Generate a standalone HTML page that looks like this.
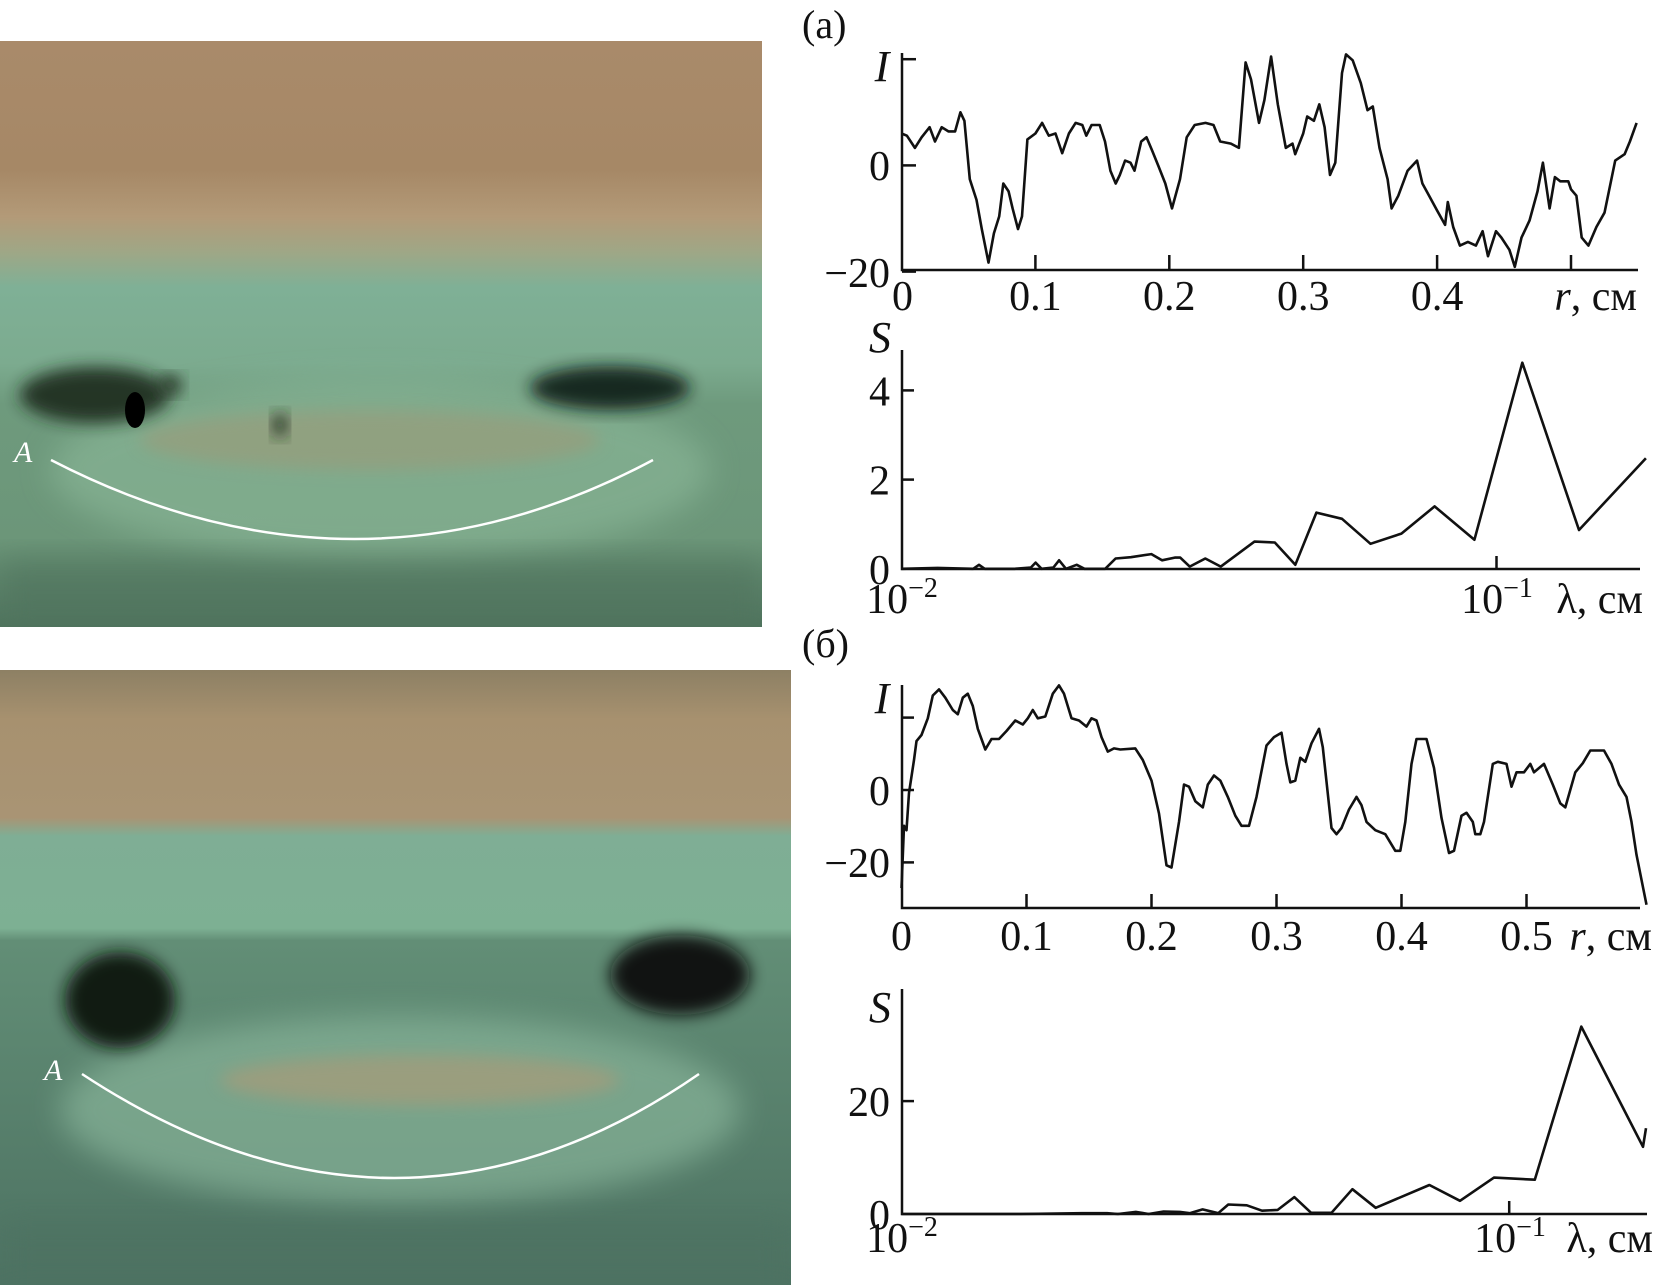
<!DOCTYPE html>
<html><head><meta charset="utf-8">
<style>
html,body{margin:0;padding:0;background:#fff;}
body{width:1654px;height:1285px;overflow:hidden;position:relative;}
svg{position:absolute;left:0;top:0;}
svg text{font-family:"Liberation Serif","Times New Roman",serif;fill:#111;}
</style></head>
<body>
<svg id="fig" width="1654" height="1285" viewBox="0 0 1654 1285" xmlns="http://www.w3.org/2000/svg" font-family="'Liberation Serif', 'Times New Roman', serif">
<defs>
<filter id="b8" x="-30%" y="-30%" width="160%" height="160%"><feGaussianBlur stdDeviation="8"/></filter>
<filter id="b15" x="-30%" y="-30%" width="160%" height="160%"><feGaussianBlur stdDeviation="15"/></filter>
<clipPath id="c1"><rect x="0" y="41" width="762" height="586"/></clipPath>
<clipPath id="c2"><rect x="0" y="670" width="791" height="615"/></clipPath>
<linearGradient id="g1" x1="0" y1="0" x2="0" y2="1">
<stop offset="0" stop-color="#a98a6a"/><stop offset="0.22" stop-color="#a68866"/>
<stop offset="0.3" stop-color="#b39a78"/><stop offset="0.36" stop-color="#9fa786"/>
<stop offset="0.42" stop-color="#7fb096"/><stop offset="0.55" stop-color="#7cab8f"/>
<stop offset="0.62" stop-color="#6e9a7d"/><stop offset="0.85" stop-color="#6c9679"/>
<stop offset="1" stop-color="#4f735d"/></linearGradient>
<linearGradient id="g2" x1="0" y1="0" x2="0" y2="1">
<stop offset="0" stop-color="#8d8064"/><stop offset="0.08" stop-color="#a7916f"/>
<stop offset="0.24" stop-color="#a99474"/><stop offset="0.27" stop-color="#7fae95"/>
<stop offset="0.42" stop-color="#7db093"/><stop offset="0.44" stop-color="#628e76"/>
<stop offset="1" stop-color="#4d7262"/></linearGradient>
</defs>

<g clip-path="url(#c1)">
<rect x="0" y="41" width="762" height="586" fill="url(#g1)"/>
<ellipse cx="380" cy="470" rx="330" ry="90" fill="#8fbc9c" opacity="0.55" filter="url(#b15)"/>
<ellipse cx="370" cy="440" rx="230" ry="30" fill="#9c9a78" opacity="0.6" filter="url(#b8)"/>
<ellipse cx="95" cy="395" rx="75" ry="28" fill="#1c2a1e" opacity="0.9" filter="url(#b8)"/>
<ellipse cx="135" cy="410" rx="10" ry="18" fill="#000"/>
<ellipse cx="610" cy="388" rx="80" ry="22" fill="#111a12" opacity="0.9" filter="url(#b8)"/>
<ellipse cx="280" cy="425" rx="7" ry="12" fill="#1a2a1c" filter="url(#b8)"/>
<ellipse cx="170" cy="385" rx="12" ry="10" fill="#2a3a2a" filter="url(#b8)"/>
<rect x="0" y="560" width="762" height="70" fill="#4f735d" opacity="0.6" filter="url(#b15)"/>
<path d="M51 460 Q357 618 653 460" fill="none" stroke="#fff" stroke-width="2.5"/>
<text x="14" y="462" font-size="30" font-style="italic" style="fill:#fff">A</text>
</g>

<g clip-path="url(#c2)">
<rect x="0" y="670" width="791" height="615" fill="url(#g2)"/>
<ellipse cx="400" cy="1110" rx="340" ry="95" fill="#8fbca0" opacity="0.6" filter="url(#b15)"/>
<ellipse cx="420" cy="1080" rx="200" ry="25" fill="#b09a76" opacity="0.6" filter="url(#b8)"/>
<ellipse cx="120" cy="1000" rx="55" ry="48" fill="#0c140d" opacity="0.95" filter="url(#b8)"/>
<ellipse cx="680" cy="975" rx="70" ry="40" fill="#070b07" opacity="0.95" filter="url(#b8)"/>
<rect x="0" y="1220" width="791" height="70" fill="#4d7262" opacity="0.7" filter="url(#b15)"/>
<path d="M82 1074 Q398 1282 699 1074" fill="none" stroke="#fff" stroke-width="2.5"/>
<text x="44" y="1080" font-size="30" font-style="italic" style="fill:#fff">A</text>
</g>

<text x="802" y="38" font-size="40">(a)</text>
<text x="802" y="657" font-size="40">(б)</text>
<g id="charts"></g>
</svg>
<script>
// ---- Chart (a) I(r) ----
const rA=[0,.004,.010,.015,.021,.025,.030,.035,.040,.044,.047,.051,.056,.060,.065,.069,.073,.076,.080,.083,.087,.090,.094,.100,.105,.110,.115,.120,.125,.130,.135,.138,.142,.148,.152,.156,.160,.163,.167,.171,.174,.179,.183,.187,.192,.197,.202,.208,.213,.219,.227,.233,.238,.246,.252,.257,.261,.267,.271,.276,.281,.287,.292,.294,.300,.303,.308,.312,.316,.320,.324,.329,.332,.337,.343,.348,.352,.357,.363,.366,.371,.378,.385,.389,.394,.400,.406,.408,.412,.417,.423,.429,.434,.438,.444,.448,.454,.458,.463,.469,.475,.479,.484,.488,.492,.498,.500,.504,.508,.513,.519,.525,.533,.540,.544,.549];
const IA=[6.0,5.6,3.3,5.3,7.2,4.5,7.2,6.4,6.4,10.0,8.4,-2.6,-6.5,-12.0,-18.3,-12.8,-9.6,-3.4,-4.9,-8.1,-12.0,-9.6,4.9,6.0,8.0,5.6,6.0,2.3,6.0,8.0,7.6,5.6,7.6,7.6,4.5,-1.0,-3.4,-1.8,0.9,0.5,-1.0,4.5,5.3,2.9,-0.2,-3.4,-8.1,-2.6,5.3,7.6,8.0,7.6,4.5,4.1,3.3,19.4,16.2,8.0,12.3,20.5,11.5,3.3,4.1,2.1,6.0,9.2,8.4,11.5,7.2,-1.8,0.5,17.4,20.9,19.8,15.5,10.4,11.1,3.3,-2.6,-8.1,-5.7,-1.0,0.9,-3.4,-5.7,-8.5,-11.2,-6.9,-11.6,-15.1,-14.4,-15.1,-12.4,-17.1,-12.4,-13.6,-15.9,-19.1,-13.6,-10.4,-4.9,0.5,-8.1,-2.2,-3.0,-3.0,-4.5,-5.7,-13.6,-15.1,-11.6,-8.9,0.9,2.1,4.5,8.0];
const rTicksA=["0","0.1","0.2","0.3","0.4"];
// ---- Chart (a) S(lambda) ----
const lamA=[.0100,.0115,.0132,.0135,.0138,.0155,.0165,.0168,.0172,.0180,.0184,.0189,.0197,.0203,.0220,.0229,.0243,.0263,.0274,.0288,.0294,.0305,.0324,.0344,.0392,.0424,.0459,.0498,.0550,.0614,.0692,.0787,.0918,.1105,.1376,.1783];
const SA=[0,.02,0,.09,0,0,.03,.14,0,.03,.19,0,.09,0,0,.23,.26,.33,.19,.25,.25,.05,.23,.05,.61,.59,.09,1.26,1.12,.56,.79,1.40,.65,4.62,.87,2.48];
const sTicksA=["0","2","4"];
// ---- Chart (б) I(r) ----
const rB=[0,.002,.004,.006,.010,.012,.016,.021,.025,.030,.035,.041,.045,.049,.053,.057,.061,.067,.072,.078,.084,.091,.097,.101,.105,.109,.115,.121,.126,.130,.136,.142,.148,.152,.156,.160,.165,.170,.175,.187,.193,.200,.206,.212,.216,.222,.226,.230,.235,.241,.245,.250,.255,.261,.267,.272,.278,.284,.292,.298,.304,.308,.311,.315,.319,.323,.328,.334,.337,.344,.348,.352,.358,.364,.368,.372,.379,.387,.395,.399,.403,.408,.412,.420,.426,.432,.438,.442,.448,.452,.457,.459,.463,.466,.473,.477,.484,.488,.492,.498,.503,.506,.514,.521,.527,.531,.539,.545,.551,.562,.568,.574,.580,.584,.588,.596];
const IB=[-27.1,-9.9,-11.1,-0.8,8.3,13.5,15.2,19.8,26.1,27.8,25.5,22.1,20.9,25.5,26.6,23.2,16.9,11.2,14.1,14.1,16.3,19.2,18.1,19.8,22.1,19.8,20.3,26.6,28.9,26.6,19.8,19.2,17.5,19.8,19.2,14.6,10.6,11.5,11.2,11.5,8.3,2.6,-6.5,-20.8,-21.4,-8.8,1.5,0.9,-3.1,-4.8,1.5,4.0,2.6,-1.9,-7.1,-9.9,-9.9,-1.9,12.3,14.6,15.8,7.2,2.1,2.6,8.9,7.8,12.9,16.9,11.8,-10.5,-12.2,-10.5,-5.4,-1.9,-4.2,-8.8,-11.1,-12.2,-16.8,-16.8,-8.8,7.2,14.1,14.1,6.1,-7.7,-17.4,-16.8,-7.1,-6.3,-8.8,-12.2,-12.2,-8.8,7.2,7.8,7.2,0.9,4.9,4.9,7.2,4.9,7.2,1.5,-3.7,-4.8,4.9,7.4,10.9,10.9,7.2,1.5,-1.9,-8.8,-17.9,-31.7];
const rTicksB=["0","0.1","0.2","0.3","0.4","0.5"];
// ---- Chart (б) S(lambda) ----
const lamB=[.0100,.0157,.0198,.0218,.0227,.0243,.0255,.0270,.0287,.0298,.0313,.0332,.0345,.0370,.0392,.0416,.0443,.0472,.0510,.0552,.0603,.0739,.0830,.0944,.1102,.1314,.1660,.1679];
const SB=[0,0,.15,.15,0,.37,0,.44,.37,.15,.81,.15,1.68,1.54,.59,.73,3.0,.22,.22,4.40,1.10,5.13,2.34,6.45,6.08,33.2,11.9,15.2];
const sTicksB=["0","20"];

const NS="http://www.w3.org/2000/svg";
const FONT="'Liberation Serif', 'Times New Roman', serif";
const root=document.getElementById('charts');
function mk(tag,attrs,parent){const e=document.createElementNS(NS,tag);for(const k in attrs)e.setAttribute(k,attrs[k]);(parent||root).appendChild(e);return e;}
function txt(parent,x,y,s,anchor,size,italic){const t=mk('text',{x:x,y:y,'text-anchor':anchor||'middle','font-size':size||42,'font-family':FONT},parent);if(italic)t.setAttribute('font-style','italic');t.textContent=s;return t;}
function pow(parent,x,y,exp){const t=mk('text',{x:x,y:y,'text-anchor':'middle','font-size':42,'font-family':FONT},parent);t.textContent='10';const s=mk('tspan',{'font-size':28,dy:-16},t);s.textContent=exp;return t;}

const xA=r=>901.5+r*1339, yA=v=>165.4-v*5.31;
const xSA=l=>901.5+595*Math.log10(l/0.01), ySA=v=>568.8-v*44.6;
const xB=r=>901.5+r*1250, yB=v=>790-v*3.62;
const xSB=l=>901.5+607.7*Math.log10(l/0.01), ySB=v=>1214-v*5.645;

function drawLine(g,xs,ys,fx,fy){let d='';for(let i=0;i<xs.length;i++){d+=(i?'L':'M')+fx(xs[i]).toFixed(1)+' '+fy(ys[i]).toFixed(1);}
return mk('path',{d:d,fill:'none',stroke:'#111','stroke-width':2.6,'stroke-linejoin':'round'},g);}

// ===== Chart (a) I =====
const gA=mk('g',{});


const axA=mk('path',{d:`M902 53 V270 H1638`,fill:'none',stroke:'#111','stroke-width':2.5},gA);


[20,0,-20].forEach(v=>mk('line',{x1:902,x2:916,y1:yA(v),y2:yA(v),stroke:'#111','stroke-width':2.5},gA));
[0.1,0.2,0.3,0.4,0.5].forEach(v=>mk('line',{x1:xA(v),x2:xA(v),y1:270,y2:255,stroke:'#111','stroke-width':2.5},gA));
const lA=drawLine(gA,rA,IA,xA,yA);


let t;
t=txt(gA,890,180,'0','end');
t=txt(gA,890,287,'−20','end');
t=txt(gA,882,81,'I','middle',44,true);
rTicksA.forEach((s,i)=>{const e=txt(gA,xA(parseFloat(s))+(i===0?1:0),310,s);

});
t=mk('text',{x:1637,y:310,'text-anchor':'end','font-size':42,'font-family':FONT},gA);t.innerHTML='<tspan font-style="italic">r</tspan>, см';


// ===== Chart (a) S =====
const gSA=mk('g',{});


const axSA=mk('path',{d:`M902 350 V569 H1640`,fill:'none',stroke:'#111','stroke-width':2.5},gSA);


[2,4].forEach(v=>mk('line',{x1:902,x2:914,y1:ySA(v),y2:ySA(v),stroke:'#111','stroke-width':2.5},gSA));
mk('line',{x1:xSA(0.1),x2:xSA(0.1),y1:569,y2:556,stroke:'#111','stroke-width':2.5},gSA);
const lSA=drawLine(gSA,lamA,SA,xSA,ySA);


sTicksA.forEach(s=>{const e=txt(gSA,890,ySA(parseFloat(s))+15,s,'end');

});
t=txt(gSA,880,352,'S','middle',44,true);
t=pow(gSA,902,613,'−2');
t=pow(gSA,1497,613,'−1');
t=txt(gSA,1643,613,'λ, см','end');

// ===== Chart (б) I =====
const gB=mk('g',{});


const axB=mk('path',{d:`M902 685 V908 H1640`,fill:'none',stroke:'#111','stroke-width':2.5},gB);


[20,0,-20].forEach(v=>mk('line',{x1:902,x2:914,y1:yB(v),y2:yB(v),stroke:'#111','stroke-width':2.5},gB));
[0.1,0.2,0.3,0.4,0.5].forEach(v=>mk('line',{x1:xB(v),x2:xB(v),y1:908,y2:894,stroke:'#111','stroke-width':2.5},gB));
const lB=drawLine(gB,rB,IB,xB,yB);


t=txt(gB,890,805,'0','end');
t=txt(gB,890,877,'−20','end');
t=txt(gB,882,713,'I','middle',44,true);
rTicksB.forEach(s=>{const e=txt(gB,xB(parseFloat(s)),950,s);

});
t=mk('text',{x:1652,y:950,'text-anchor':'end','font-size':42,'font-family':FONT},gB);t.innerHTML='<tspan font-style="italic">r</tspan>, см';


// ===== Chart (б) S =====
const gSB=mk('g',{});


const axSB=mk('path',{d:`M902 989 V1214 H1647`,fill:'none',stroke:'#111','stroke-width':2.5},gSB);


[20].forEach(v=>mk('line',{x1:902,x2:914,y1:ySB(v),y2:ySB(v),stroke:'#111','stroke-width':2.5},gSB));
mk('line',{x1:xSB(0.1),x2:xSB(0.1),y1:1214,y2:1201,stroke:'#111','stroke-width':2.5},gSB);
const lSB=drawLine(gSB,lamB,SB,xSB,ySB);


sTicksB.forEach(s=>{const e=txt(gSB,890,ySB(parseFloat(s))+15,s,'end');

});
t=txt(gSB,880,1022,'S','middle',44,true);
t=pow(gSB,902,1252,'−2');
t=pow(gSB,1510,1252,'−1');
t=txt(gSB,1653,1252,'λ, см','end');
</script>
</body></html>
